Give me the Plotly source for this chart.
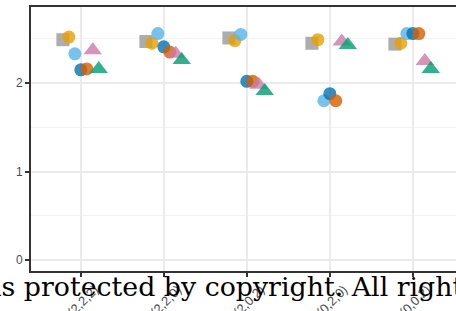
import plotly.graph_objects as go

categories = ["(2,2,2)", "(2,2,0)", "(2,0,2)", "(0,2,0)", "(0,0,2)"]
series_names = ["A", "B", "C", "D", "E", "F", "G"]
series_colors = ["#999999", "#E69F00", "#56B4E9", "#0072B2", "#D55E00", "#CC79A7", "#009E73"]
series_symbols = ["square", "circle", "circle", "circle", "circle", "triangle-up", "triangle-up"]
series_sizes = [13, 13, 13, 13, 13, 16, 16]

values = [
    [2.49, 2.47, 2.51, 2.45, 2.44],  # grey square
    [2.52, 2.45, 2.48, 2.49, 2.45],  # orange
    [2.33, 2.56, 2.55, 1.80, 2.56],  # sky blue
    [2.15, 2.41, 2.02, 1.88, 2.56],  # dark blue
    [2.16, 2.35, 2.02, 1.80, 2.56],  # vermillion
    [2.37, 2.33, 1.98, 2.47, 2.25],  # pink
    [2.16, 2.26, 1.91, 2.43, 2.16],  # green
]

dodge = 0.072
fig = go.Figure()
for i, name in enumerate(series_names):
    xs = [k + 1 + (i - 3) * dodge for k in range(len(categories))]
    fig.add_trace(go.Scatter(
        x=xs, y=values[i], mode="markers", name=name,
        marker=dict(color=series_colors[i], symbol=series_symbols[i],
                    size=series_sizes[i], opacity=0.8, line=dict(width=0)),
        showlegend=False,
    ))

fig.update_layout(
    width=456, height=311,
    margin=dict(l=31, r=0, t=7, b=40),
    paper_bgcolor="white", plot_bgcolor="white",
    font=dict(family="Liberation Sans, Arial, sans-serif", color="#4D4D4D"),
)
fig.update_xaxes(
    range=[0.4, 5.52], tickvals=[1, 2, 3, 4, 5], ticktext=categories,
    tickangle=-45, tickfont=dict(size=13, color="#4D4D4D"),
    ticklabelshift=14, ticklabelstandoff=0,
    showgrid=True, gridcolor="#EBEBEB", gridwidth=2,
    showline=True, linecolor="#333333", linewidth=2, mirror=True,
    ticks="outside", ticklen=4, tickcolor="#333333", tickwidth=1.5,
    zeroline=False, automargin=False,
)
fig.update_yaxes(
    range=[-0.125, 2.86], tickvals=[0, 1, 2],
    tickfont=dict(size=12, color="#4D4D4D"),
    showgrid=True, gridcolor="#EBEBEB", gridwidth=2,
    minor=dict(dtick=0.5, tick0=0, showgrid=True, gridcolor="#F3F3F3", gridwidth=1, ticks=""),
    showline=True, linecolor="#333333", linewidth=2,
    ticks="outside", ticklen=4, tickcolor="#333333", tickwidth=1.5,
    zeroline=False, automargin=False,
)
fig.add_annotation(
    text="is protected by copyright. All rights",
    xref="paper", yref="paper", x=-0.095, y=0.006, xanchor="left", yanchor="top",
    showarrow=False, font=dict(family="DejaVu Serif", size=26.8, color="black"),
)
fig.write_html("out.html", config={"displayModeBar": False},
               post_script="document.body.style.margin='0';document.body.style.overflow='hidden';")
